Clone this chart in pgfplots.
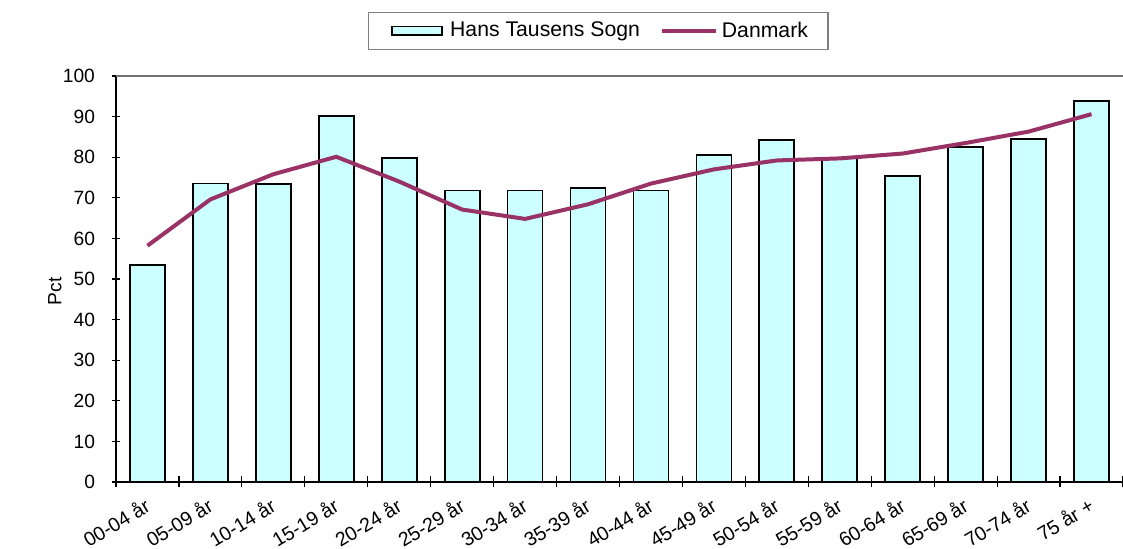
\documentclass[border=0pt]{standalone}
\usepackage{fontspec}
\setmainfont{Liberation Sans}
\usepackage{pgfplots}
\pgfplotsset{compat=1.18}
\definecolor{barfill}{HTML}{CCFFFF}
\definecolor{dkline}{HTML}{993366}
\pgfplotsset{
    barleg/.style={legend image code/.code={\path[draw=none,fill=none] (0pt,0pt) -- (31pt,0pt);\draw[##1] (4pt,-2.2pt) rectangle (29pt,2.2pt);}},
    lineleg/.style={legend image code/.code={\draw[##1] (0pt,0pt) -- (27pt,0pt);}},
}
\begin{document}
\begin{tikzpicture}
\useasboundingbox (-58pt,-33.5pt) rectangle (503.5pt,241pt);
\begin{axis}[
    at={(0,0)}, anchor=south west,
    scale only axis,
    width=503.5pt, height=203pt,
    xmin=-0.5, xmax=15.5,
    ymin=0, ymax=100,
    ytick={0,10,...,100},
    xtick={0,...,15},
    xticklabels={00-04 år,05-09 år,10-14 år,15-19 år,20-24 år,25-29 år,30-34 år,35-39 år,40-44 år,45-49 år,50-54 år,55-59 år,60-64 år,65-69 år,70-74 år,75 år +},
    minor xtick={-0.5,0.5,...,15.5},
    major x tick style={draw=none},
    minor x tick style={black, line width=0.6pt},
    minor tick length=5.5pt,
    x tick label style={yshift=-5pt, xshift=-2pt, rotate=31, anchor=north east, inner sep=0pt,
        font=\fontsize{9.8}{12}\selectfont},
    y tick style={black, line width=0.6pt},
    tick align=center,
    major tick length=4pt,
    axis x line*=bottom,
    axis y line*=left,
    axis line style={black, line width=1pt},
    y tick label style={font=\fontsize{9.6}{11}\selectfont, xshift=-5pt},
    /pgf/number format/assume math mode=true,
    ylabel={Pct},
    ylabel style={at={(axis description cs:-0.0606,0.47)}, anchor=center, font=\fontsize{9.6}{11}\selectfont},
    legend columns=2,
    legend style={at={(axis description cs:0.4787,1.111)}, anchor=center,
        draw=gray, line width=0.6pt, font=\fontsize{10.6}{12}\selectfont,
        inner xsep=8pt, inner ysep=2.5pt,
        /tikz/every even column/.append style={column sep=8pt}},
    clip=false,
]
\addplot[ybar, bar width=17.5pt, fill=barfill, draw=black, line width=0.9pt, barleg]
    coordinates {(0,53.5)(1,73.5)(2,73.4)(3,90.2)(4,79.8)(5,71.8)(6,71.8)(7,72.4)(8,71.8)(9,80.6)(10,84.2)(11,79.8)(12,75.4)(13,82.6)(14,84.5)(15,93.8)};
\addlegendentry{Hans Tausens Sogn}
\addplot[dkline, line width=2pt, mark=none, lineleg]
    coordinates {(0,58.2)(1,69.6)(2,75.8)(3,80.1)(4,74.0)(5,67.1)(6,64.8)(7,68.4)(8,73.5)(9,77.0)(10,79.2)(11,79.7)(12,80.9)(13,83.5)(14,86.3)(15,90.6)};
\addlegendentry{Danmark}
\draw[gray!90!black, line width=1.1pt] (rel axis cs:0,1) -- (rel axis cs:1,1);
\end{axis}
\end{tikzpicture}
\end{document}
